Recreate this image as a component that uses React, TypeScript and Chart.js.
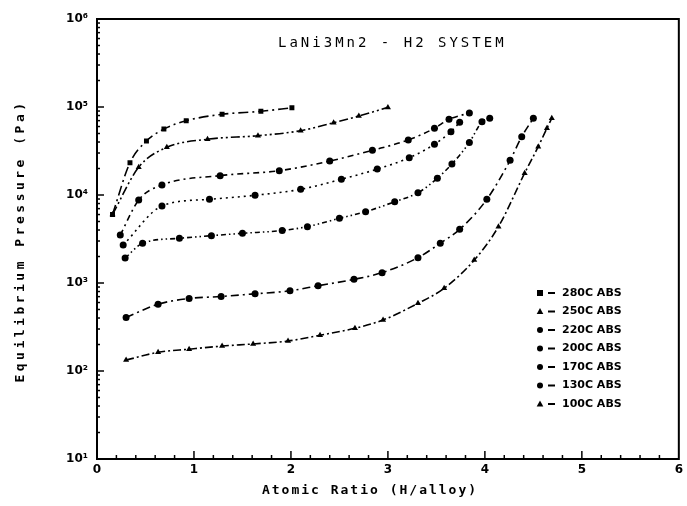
import React, { useEffect, useRef } from 'react';
import { Chart, registerables } from 'chart.js';

Chart.register(...registerables);

// ---- Data ----
const seriesNames = ['280C ABS', '250C ABS', '220C ABS', '200C ABS', '170C ABS', '130C ABS', '100C ABS'];

const x280 = [0.16, 0.34, 0.51, 0.69, 0.92, 1.29, 1.69, 2.01];
const p280 = [6.0e3, 2.33e4, 4.11e4, 5.62e4, 6.98e4, 8.26e4, 8.93e4, 9.8e4];

const x250 = [0.16, 0.43, 0.72, 1.14, 1.66, 2.10, 2.44, 2.70, 3.0];
const p250 = [6.0e3, 2.07e4, 3.48e4, 4.3e4, 4.72e4, 5.38e4, 6.64e4, 7.9e4, 9.9e4];

const x220 = [0.24, 0.43, 0.67, 1.27, 1.88, 2.40, 2.84, 3.21, 3.48, 3.63, 3.84];
const p220 = [3.51e3, 8.77e3, 1.3e4, 1.66e4, 1.89e4, 2.43e4, 3.22e4, 4.22e4, 5.73e4, 7.24e4, 8.55e4];

const x200 = [0.27, 0.67, 1.16, 1.63, 2.10, 2.52, 2.89, 3.22, 3.48, 3.65, 3.74];
const p200 = [2.7e3, 7.5e3, 8.93e3, 9.93e3, 1.16e4, 1.51e4, 1.97e4, 2.65e4, 3.77e4, 5.24e4, 6.7e4];

const x170 = [0.29, 0.47, 0.85, 1.18, 1.50, 1.91, 2.17, 2.50, 2.77, 3.07, 3.31, 3.51, 3.66, 3.84, 3.97, 4.05];
const p170 = [1.92e3, 2.83e3, 3.22e3, 3.45e3, 3.67e3, 3.95e3, 4.37e3, 5.43e3, 6.46e3, 8.39e3, 1.06e4, 1.55e4, 2.25e4, 3.95e4, 6.8e4, 7.45e4];

const x130 = [0.30, 0.63, 0.95, 1.28, 1.63, 1.99, 2.28, 2.65, 2.94, 3.31, 3.54, 3.74, 4.02, 4.26, 4.38, 4.50];
const p130 = [406, 574, 667, 703, 754, 815, 931, 1.1e3, 1.31e3, 1.94e3, 2.83e3, 4.07e3, 8.93e3, 2.48e4, 4.6e4, 7.45e4];

const x100 = [0.30, 0.63, 0.95, 1.29, 1.61, 1.97, 2.30, 2.66, 2.95, 3.31, 3.58, 3.89, 4.14, 4.41, 4.55, 4.64, 4.69];
const p100 = [133, 163, 177, 192, 203, 219, 255, 306, 380, 588, 871, 1.82e3, 4.37e3, 1.77e4, 3.54e4, 5.73e4, 7.45e4];

const xTickValues = [0, 1, 2, 3, 4, 5, 6];
const xTickLabels = ['0', '1', '2', '3', '4', '5', '6'];
const yTickValues = [1e1, 1e2, 1e3, 1e4, 1e5, 1e6];
const yTickLabels = ['10¹', '10²', '10³', '10⁴', '10⁵', '10⁶'];

const chartTitle = 'LaNi3Mn2 - H2 SYSTEM';
const xTitle = 'Atomic Ratio (H/alloy)';
const yTitle = 'Equilibrium Pressure (Pa)';

const seriesX = [x280, x250, x220, x200, x170, x130, x100];
const seriesP = [p280, p250, p220, p200, p170, p130, p100];

const pointStyles = ['rect', 'triangle', 'circle', 'circle', 'circle', 'circle', 'triangle'];
const dashes: number[][] = [
  [10, 4, 2, 4],
  [9, 3, 2, 3, 2, 3],
  [6, 4, 2, 4],
  [2, 4],
  [5, 3, 1.5, 3, 1.5, 3],
  [8, 4, 2, 4],
  [8, 3, 2, 3],
];

function drawMarker(ctx: CanvasRenderingContext2D, style: string, x: number, y: number, r: number) {
  ctx.beginPath();
  if (style === 'rect') {
    ctx.rect(x - r, y - r, 2 * r, 2 * r);
  } else if (style === 'triangle') {
    ctx.moveTo(x, y - r * 1.2);
    ctx.lineTo(x + r * 1.1, y + r * 0.8);
    ctx.lineTo(x - r * 1.1, y + r * 0.8);
    ctx.closePath();
  } else {
    ctx.arc(x, y, r, 0, Math.PI * 2);
  }
  ctx.fill();
}

const decorPlugin = {
  id: 'decor',
  afterDraw(chart: any) {
    const { ctx, chartArea: a, scales } = chart;
    const xs = scales.x;
    const ys = scales.y;
    ctx.save();
    ctx.strokeStyle = '#000';
    ctx.fillStyle = '#000';
    // frame
    ctx.lineWidth = 2;
    ctx.strokeRect(a.left, a.top, a.right - a.left, a.bottom - a.top);
    // x minor ticks (inward)
    ctx.lineWidth = 1.5;
    for (let i = 1; i < 30; i++) {
      const v = i * 0.2;
      const px = xs.getPixelForValue(v);
      const len = i % 5 === 0 ? 8 : 4;
      ctx.beginPath();
      ctx.moveTo(px, a.bottom);
      ctx.lineTo(px, a.bottom - len);
      ctx.stroke();
    }
    // y minor ticks (inward)
    for (let e = 1; e < 6; e++) {
      for (let m = 1; m < 10; m++) {
        const v = m * Math.pow(10, e);
        const py = ys.getPixelForValue(v);
        const len = m === 1 ? 7 : 3;
        ctx.beginPath();
        ctx.moveTo(a.left, py);
        ctx.lineTo(a.left + len, py);
        ctx.stroke();
      }
    }
    // title
    ctx.textBaseline = 'middle';
    ctx.textAlign = 'left';
    ctx.font = '14px "DejaVu Sans Mono"';
    (ctx as any).letterSpacing = '3px';
    ctx.fillText(chartTitle, 278, 43);
    // x title
    ctx.font = 'bold 13px "DejaVu Sans Mono"';
    (ctx as any).letterSpacing = '2px';
    ctx.textAlign = 'center';
    ctx.fillText(xTitle, 370, 491);
    // y title
    ctx.save();
    ctx.translate(21, 241);
    ctx.rotate(-Math.PI / 2);
    (ctx as any).letterSpacing = '3.5px';
    ctx.fillText(yTitle, 0, 0);
    ctx.restore();
    (ctx as any).letterSpacing = '0px';
    // legend
    ctx.font = 'bold 11px "DejaVu Sans"';
    ctx.textAlign = 'left';
    for (let i = 0; i < seriesNames.length; i++) {
      const ly = 293 + i * 18.5;
      drawMarker(ctx, pointStyles[i], 540, ly, 3);
      ctx.lineWidth = 2;
      ctx.setLineDash([]);
      ctx.beginPath();
      ctx.moveTo(548, ly);
      ctx.lineTo(555, ly);
      ctx.stroke();
      ctx.fillText(seriesNames[i], 562, ly);
    }
    ctx.restore();
  },
};

export default function App() {
  const ref = useRef<HTMLCanvasElement | null>(null);
  useEffect(() => {
    document.body.style.margin = '0';
    const canvas = ref.current;
    if (!canvas) return;
    const datasets = seriesNames.map((name, i) => ({
      label: name,
      data: seriesX[i].map((xv, j) => ({ x: xv, y: seriesP[i][j] })),
      borderColor: '#000',
      backgroundColor: '#000',
      borderWidth: 1.6,
      borderDash: dashes[i],
      pointStyle: pointStyles[i] as any,
      pointRadius: 3.5,
      pointBackgroundColor: '#000',
      pointBorderColor: '#000',
      pointBorderWidth: 0,
      tension: 0.4,
      cubicInterpolationMode: 'monotone' as const,
      fill: false,
    }));
    const chart = new Chart(canvas, {
      type: 'line',
      data: { datasets },
      plugins: [decorPlugin],
      options: {
        animation: false,
        responsive: false,
        layout: { padding: { top: 19, right: 4, left: 0, bottom: 0 } },
        plugins: {
          legend: { display: false },
          title: { display: false },
          tooltip: { enabled: false },
        },
        scales: {
          x: {
            type: 'linear',
            min: 0,
            max: 6,
            afterBuildTicks: (s: any) => {
              s.ticks = xTickValues.map((v) => ({ value: v }));
            },
            afterFit: (s: any) => {
              s.height = 47;
            },
            ticks: {
              callback: (v: any) => {
                const k = xTickValues.indexOf(Number(v));
                return k >= 0 ? xTickLabels[k] : '';
              },
              color: '#000',
              font: { family: 'DejaVu Sans', weight: 'bold', size: 12 },
              padding: 4,
              maxRotation: 0,
            },
            grid: { display: false, drawTicks: false },
            border: { display: true, color: '#000', width: 2 },
          },
          y: {
            type: 'logarithmic',
            min: 10,
            max: 1e6,
            afterBuildTicks: (s: any) => {
              s.ticks = yTickValues.map((v) => ({ value: v }));
            },
            afterFit: (s: any) => {
              s.width = 97;
            },
            ticks: {
              callback: (v: any) => {
                const k = yTickValues.indexOf(Number(v));
                return k >= 0 ? yTickLabels[k] : '';
              },
              color: '#000',
              font: { family: 'DejaVu Sans', weight: 'bold', size: 12 },
              padding: 9,
            },
            grid: { display: false, drawTicks: false },
            border: { display: true, color: '#000', width: 2 },
          },
        },
      },
    });
    return () => chart.destroy();
  }, []);
  return (
    <div style={{ width: 687, height: 506, background: '#fff' }}>
      <canvas ref={ref} width={687} height={506} />
    </div>
  );
}
